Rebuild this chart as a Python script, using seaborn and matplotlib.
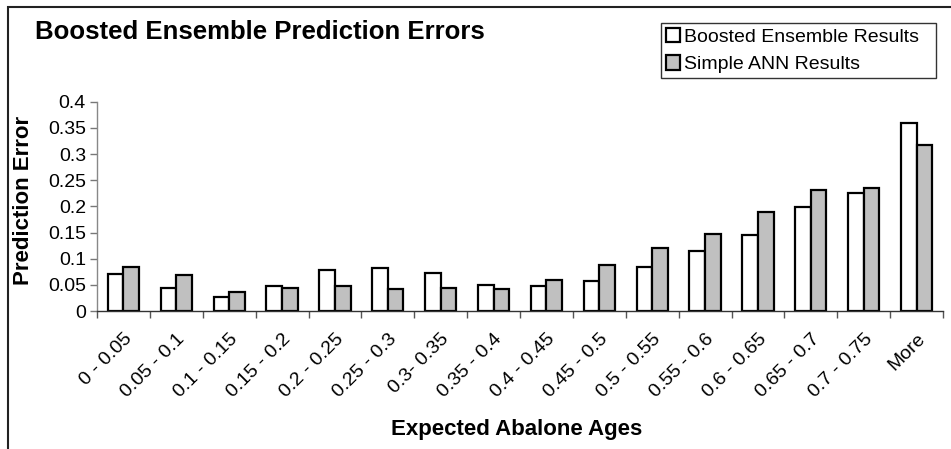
import matplotlib
matplotlib.use("Agg")
import matplotlib.pyplot as plt
from matplotlib.patches import Rectangle
from matplotlib.ticker import FixedLocator
import seaborn as sns
import pandas as pd
import numpy as np

categories = ["0 - 0.05", "0.05 - 0.1", "0.1 - 0.15", "0.15 - 0.2", "0.2 - 0.25",
              "0.25 - 0.3", "0.3- 0.35", "0.35 - 0.4", "0.4 - 0.45", "0.45 - 0.5",
              "0.5 - 0.55", "0.55 - 0.6", "0.6 - 0.65", "0.65 - 0.7", "0.7 - 0.75",
              "More"]
boosted = [0.071, 0.044, 0.026, 0.048, 0.078, 0.082, 0.073, 0.050, 0.047, 0.058,
           0.085, 0.115, 0.145, 0.198, 0.225, 0.360]
simple_ann = [0.085, 0.068, 0.037, 0.044, 0.047, 0.043, 0.044, 0.042, 0.060, 0.088,
              0.120, 0.148, 0.189, 0.232, 0.235, 0.318]
series_names = ["Boosted Ensemble Results", "Simple ANN Results"]
ytick_labels = ["0", "0.05", "0.1", "0.15", "0.2", "0.25", "0.3", "0.35", "0.4"]

df = pd.DataFrame({
    "Age": categories * 2,
    "Error": boosted + simple_ann,
    "Series": [series_names[0]] * len(categories) + [series_names[1]] * len(categories),
})

sns.set_theme(style="white")
plt.rcParams["font.family"] = ["Liberation Sans", "DejaVu Sans"]
plt.rcParams.update({"text.color": "black", "axes.labelcolor": "black",
                     "xtick.color": "black", "ytick.color": "black"})

W, H = 951, 449
fig = plt.figure(figsize=(W / 100, H / 100), dpi=100)
ax_left, ax_right = 97, 943
ax_bottom, ax_top = 311, 101.7
ax_w, ax_h = ax_right - ax_left, ax_bottom - ax_top
ax = fig.add_axes([ax_left / W, 1 - ax_bottom / H, ax_w / W, ax_h / H])

sns.barplot(data=df, x="Age", y="Error", hue="Series", order=categories,
            hue_order=series_names, palette=["white", "#C0C0C0"],
            width=0.59, gap=0, edgecolor="black", linewidth=1.6,
            saturation=1, ax=ax, legend=True)

ax.set_xlim(-0.5, len(categories) - 0.5)
ax.set_ylim(0, 0.4)
ax.set_yticks(np.arange(0, 0.401, 0.05))
ax.set_yticklabels(ytick_labels, fontsize=14)

# category labels at centres, tick marks at category boundaries
ax.set_xticks(range(len(categories)))
ax.set_xticklabels(categories, rotation=45, ha="right", va="top",
                   rotation_mode="anchor", fontsize=14)
ax.xaxis.set_minor_locator(FixedLocator(np.arange(-0.5, len(categories), 1.0)))
ax.tick_params(axis="x", which="major", length=0, pad=14)
ax.tick_params(axis="x", which="minor", length=5, width=1, color="#555555",
               direction="out", bottom=True)
ax.tick_params(axis="y", length=5, width=1, color="#777777", direction="out",
               left=True, pad=3, labelcolor="black")

for side in ["top", "right"]:
    ax.spines[side].set_visible(False)
ax.spines["left"].set_color("#888888")
ax.spines["left"].set_linewidth(1)
ax.spines["bottom"].set_color("#333333")
ax.spines["bottom"].set_linewidth(1)

ax.set_xlabel("Expected Abalone Ages", fontsize=16, fontweight="bold")
ax.set_ylabel("Prediction Error", fontsize=16, fontweight="bold")
ax.xaxis.set_label_coords((517 - ax_left) / ax_w, -(419 - ax_bottom) / ax_h)
ax.yaxis.set_label_coords(-(ax_left - 34) / ax_w, (ax_bottom - 200) / ax_h)

fig.text(35 / W, 1 - 32 / H, "Boosted Ensemble Prediction Errors",
         fontsize=18.5, fontweight="bold", ha="left", va="center")

leg_x0, leg_x1, leg_y0, leg_y1 = 661, 936, 22, 79
leg = ax.legend(loc="center left",
                bbox_to_anchor=((leg_x0 - ax_left) / ax_w,
                                (ax_bottom - leg_y1) / ax_h,
                                (leg_x1 - leg_x0) / ax_w,
                                (leg_y1 - leg_y0) / ax_h),
                mode="expand", frameon=True, fancybox=False, fontsize=14,
                handlelength=0.75, handleheight=0.75, handletextpad=0.2,
                borderpad=0.25, labelspacing=0.5, borderaxespad=0)
leg.get_frame().set_edgecolor("black")
leg.get_frame().set_linewidth(1)
for h in leg.legend_handles:
    h.set_edgecolor("black")
    h.set_linewidth(1.6)

# chart area border
fig.patches.append(Rectangle((8 / W, -0.1), 1.2, 1.1 - 7.5 / H,
                             transform=fig.transFigure, fill=False,
                             edgecolor="#222222", linewidth=1.5, zorder=0))

fig.savefig("out.png", dpi=100)
